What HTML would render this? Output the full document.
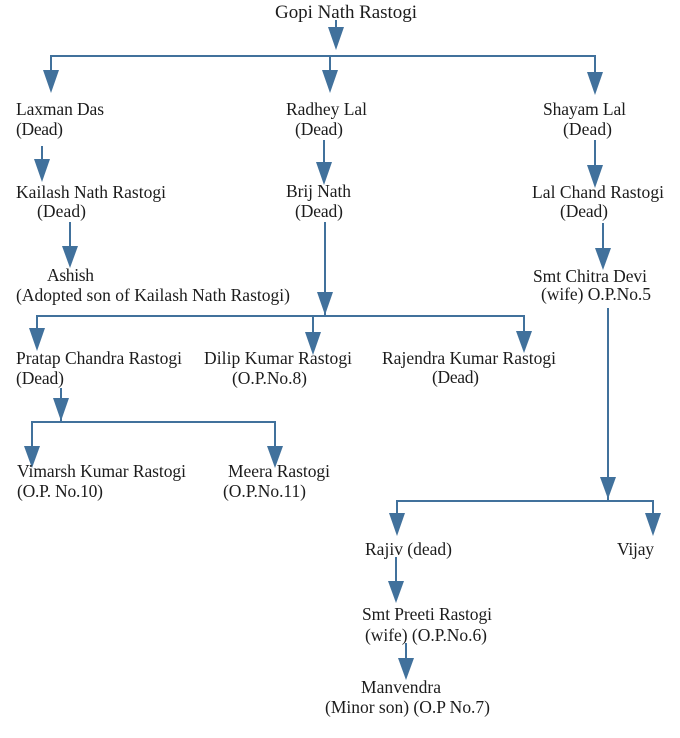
<!DOCTYPE html>
<html>
<head>
<meta charset="utf-8">
<style>
  html,body{margin:0;padding:0;background:#fff;}
  svg{display:block;}
  text{font-family:"Liberation Serif","Times New Roman",serif;font-size:17.5px;fill:#1c1c1c;}
</style>
</head>
<body>
<svg width="680" height="738" viewBox="0 0 680 738" xmlns="http://www.w3.org/2000/svg">
  <g fill="none" stroke="#41719C" stroke-width="2">
    <path d="M336,20 V32"/>
    <path d="M51,76 V56 H595 V76"/>
    <path d="M330,56 V76"/>
    <path d="M42,146 V165"/>
    <path d="M324,140 V167"/>
    <path d="M595,140 V170"/>
    <path d="M70,222 V250"/>
    <path d="M325,222 V316"/>
    <path d="M37,334 V316 H524 V334"/>
    <path d="M313,316 V337"/>
    <path d="M603,223 V252"/>
    <path d="M61,388 V422"/>
    <path d="M32,450 V422 H275 V450"/>
    <path d="M608,308 V501"/>
    <path d="M397,518 V501 H653 V518"/>
    <path d="M396,557 V585"/>
    <path d="M406,643 V662"/>
  </g>
  <g fill="#41719C">
    <polygon points="328,27 344,27 336,50"/>
    <polygon points="43,70 59,70 51,93"/>
    <polygon points="322,70 338,70 330,93"/>
    <polygon points="587,72 603,72 595,95"/>
    <polygon points="34,159 50,159 42,182"/>
    <polygon points="316,162 332,162 324,185"/>
    <polygon points="587,165 603,165 595,188"/>
    <polygon points="62,246 78,246 70,268"/>
    <polygon points="317,292 333,292 325,315"/>
    <polygon points="29,328 45,328 37,351"/>
    <polygon points="305,332 321,332 313,355"/>
    <polygon points="516,331 532,331 524,353"/>
    <polygon points="595,248 611,248 603,270"/>
    <polygon points="53,398 69,398 61,421"/>
    <polygon points="24,446 40,446 32,468"/>
    <polygon points="267,446 283,446 275,468"/>
    <polygon points="600,477 616,477 608,499"/>
    <polygon points="389,513 405,513 397,536"/>
    <polygon points="645,513 661,513 653,536"/>
    <polygon points="388,581 404,581 396,603"/>
    <polygon points="398,658 414,658 406,680"/>
  </g>
  <g>
    <text x="275" y="18" textLength="142" style="font-size:19px">Gopi Nath Rastogi</text>

    <text x="16" y="115" textLength="88">Laxman Das</text>
    <text x="16" y="135" textLength="47">(Dead)</text>
    <text x="286" y="115" textLength="81">Radhey Lal</text>
    <text x="295" y="135" textLength="48">(Dead)</text>
    <text x="543" y="115" textLength="83">Shayam Lal</text>
    <text x="563" y="135" textLength="49">(Dead)</text>

    <text x="16" y="198" textLength="150">Kailash Nath Rastogi</text>
    <text x="37" y="217" textLength="49">(Dead)</text>
    <text x="286" y="197" textLength="65">Brij Nath</text>
    <text x="295" y="217" textLength="48">(Dead)</text>
    <text x="532" y="198" textLength="132">Lal Chand Rastogi</text>
    <text x="560" y="217" textLength="48">(Dead)</text>

    <text x="47" y="281" textLength="47">Ashish</text>
    <text x="16" y="301" textLength="274">(Adopted son of Kailash Nath Rastogi)</text>
    <text x="533" y="282" textLength="114">Smt Chitra Devi</text>
    <text x="541" y="300" textLength="110">(wife) O.P.No.5</text>

    <text x="16" y="364" textLength="166">Pratap Chandra Rastogi</text>
    <text x="16" y="384" textLength="48">(Dead)</text>
    <text x="204" y="364" textLength="148">Dilip Kumar Rastogi</text>
    <text x="232" y="384" textLength="75">(O.P.No.8)</text>
    <text x="382" y="364" textLength="174">Rajendra Kumar Rastogi</text>
    <text x="432" y="383" textLength="47">(Dead)</text>

    <text x="17" y="477" textLength="169">Vimarsh Kumar Rastogi</text>
    <text x="17" y="497" textLength="86">(O.P. No.10)</text>
    <text x="228" y="477" textLength="102">Meera Rastogi</text>
    <text x="223" y="497" textLength="83">(O.P.No.11)</text>

    <text x="365" y="555" textLength="87">Rajiv (dead)</text>
    <text x="617" y="555" textLength="37">Vijay</text>

    <text x="362" y="620" textLength="130">Smt Preeti Rastogi</text>
    <text x="365" y="641" textLength="122">(wife) (O.P.No.6)</text>

    <text x="361" y="693" textLength="80">Manvendra</text>
    <text x="325" y="713" textLength="165">(Minor son) (O.P No.7)</text>
  </g>
</svg>
</body>
</html>
